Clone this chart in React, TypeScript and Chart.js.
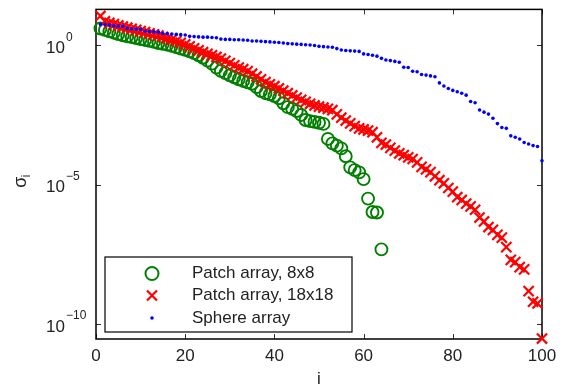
import React, { useEffect, useRef } from "react";
import { Chart, registerables } from "chart.js";

Chart.register(...registerables);

// Index axis ticks and the decades labelled on the σ axis
const indexTicks = [0, 20, 40, 60, 80, 100];
const decadeTicks = [0, -5, -10];

// log10 of the singular values σ_i, i = 1, 2, ...
const patch8x8Log = [
  0.6, 0.55, 0.5, 0.45, 0.4, 0.36, 0.32, 0.29, 0.26, 0.22,
  0.19, 0.16, 0.12, 0.08, 0.05, 0.02, -0.02, -0.07, -0.12, -0.16,
  -0.22, -0.28, -0.36, -0.45, -0.55, -0.66, -0.8, -0.92, -1.0, -1.08,
  -1.15, -1.22, -1.28, -1.33, -1.38, -1.5, -1.64, -1.72, -1.76, -1.82,
  -1.9, -2.08, -2.22, -2.28, -2.36, -2.5, -2.68, -2.72, -2.75, -2.78,
  -2.82, -3.36, -3.52, -3.6, -3.7, -3.98, -4.38, -4.48, -4.56, -4.8,
  -5.5, -5.98, -6.0, -7.32,
];

const patch18x18Log = [
  1.05, 0.86, 0.8, 0.76, 0.71, 0.67, 0.63, 0.59, 0.55, 0.51,
  0.47, 0.43, 0.39, 0.35, 0.3, 0.25, 0.2, 0.15, 0.09, 0.03,
  -0.04, -0.11, -0.18, -0.25, -0.31, -0.36, -0.42, -0.48, -0.56, -0.64,
  -0.72, -0.8, -0.86, -0.93, -1.02, -1.12, -1.22, -1.32, -1.4, -1.47,
  -1.55, -1.63, -1.72, -1.8, -1.88, -1.96, -2.03, -2.1, -2.16, -2.2,
  -2.24, -2.28, -2.33, -2.48, -2.6, -2.7, -2.8, -2.9, -2.98, -3.02,
  -3.06, -3.12, -3.3, -3.5, -3.56, -3.68, -3.78, -3.88, -3.94, -4.02,
  -4.08, -4.2, -4.36, -4.45, -4.55, -4.7, -4.84, -4.95, -5.12, -5.25,
  -5.45, -5.55, -5.68, -5.78, -5.9, -6.18, -6.32, -6.52, -6.62, -6.8,
  -6.9, -7.24, -7.7, -7.78, -7.96, -8.04, -8.82, -9.2, -9.26, -10.52,
];

const sphereLog = [
  0.75, 0.74, 0.73, 0.7, 0.69, 0.68, 0.61, 0.59, 0.58, 0.57,
  0.5, 0.49, 0.48, 0.47, 0.42, 0.41, 0.4, 0.39, 0.38, 0.37,
  0.32, 0.31, 0.3, 0.29, 0.29, 0.28, 0.27, 0.22, 0.21, 0.21,
  0.2, 0.2, 0.19, 0.18, 0.155, 0.15, 0.14, 0.13, 0.12, 0.11,
  0.1, 0.08, 0.06, 0.05, 0.04, 0.03, 0.02, 0.01, -0.01, -0.04,
  -0.05, -0.06, -0.07, -0.12, -0.17, -0.19, -0.2, -0.21, -0.22, -0.31,
  -0.33, -0.36, -0.39, -0.47, -0.53, -0.55, -0.58, -0.61, -0.79, -0.8,
  -0.93, -0.95, -1.05, -1.07, -1.1, -1.13, -1.35, -1.46, -1.55, -1.62,
  -1.67, -1.72, -1.79, -2.02, -2.06, -2.32, -2.4, -2.47, -2.62, -2.81,
  -2.95, -2.98, -3.25, -3.3, -3.36, -3.49, -3.54, -3.6, -3.63, -4.14,
];

const seriesNames = ["Patch array, 8x8", "Patch array, 18x18", "Sphere array"];
const seriesColors = ["#008000", "#ff0000", "#0000ff"];

const FONT = '"Liberation Sans", Arial, Helvetica, sans-serif';
const TEXT = "#222222";

const toPoints = (logs: number[]) => logs.map((e, k) => ({ x: k + 1, y: Math.pow(10, e) }));

function drawMarker(ctx: CanvasRenderingContext2D, kind: number, x: number, y: number) {
  ctx.save();
  ctx.strokeStyle = seriesColors[kind];
  ctx.fillStyle = seriesColors[kind];
  if (kind === 0) {
    ctx.lineWidth = 2;
    ctx.beginPath();
    ctx.arc(x, y, 6.5, 0, Math.PI * 2);
    ctx.stroke();
  } else if (kind === 1) {
    ctx.lineWidth = 2.2;
    ctx.beginPath();
    ctx.moveTo(x - 5, y - 5);
    ctx.lineTo(x + 5, y + 5);
    ctx.moveTo(x - 5, y + 5);
    ctx.lineTo(x + 5, y - 5);
    ctx.stroke();
  } else {
    ctx.beginPath();
    ctx.arc(x, y, 1.8, 0, Math.PI * 2);
    ctx.fill();
  }
  ctx.restore();
}

// Box, inward ticks, tick labels and axis titles
const axesFrame = {
  id: "axesFrame",
  beforeDatasetsDraw(chart: any) {
    const { ctx, chartArea: a, scales } = chart;
    const xs = scales.x;
    const ys = scales.y;
    ctx.save();

    ctx.strokeStyle = "#333333";
    ctx.lineWidth = 1;
    ctx.beginPath();
    for (const t of indexTicks) {
      const px = Math.round(xs.getPixelForValue(t)) + 0.5;
      ctx.moveTo(px, a.bottom);
      ctx.lineTo(px, a.bottom - 5);
      ctx.moveTo(px, a.top);
      ctx.lineTo(px, a.top + 5);
    }
    for (const e of decadeTicks) {
      const py = Math.round(ys.getPixelForValue(Math.pow(10, e))) + 0.5;
      ctx.moveTo(a.left, py);
      ctx.lineTo(a.left + 5, py);
      ctx.moveTo(a.right, py);
      ctx.lineTo(a.right - 5, py);
    }
    ctx.stroke();

    ctx.strokeStyle = "#000000";
    ctx.lineWidth = 1.5;
    ctx.strokeRect(a.left, a.top, a.right - a.left, a.bottom - a.top);

    ctx.fillStyle = TEXT;
    ctx.font = `17px ${FONT}`;
    ctx.textAlign = "center";
    ctx.textBaseline = "middle";
    for (const t of indexTicks) {
      ctx.fillText(String(t), xs.getPixelForValue(t), a.bottom + 17);
    }

    for (const e of decadeTicks) {
      const py = ys.getPixelForValue(Math.pow(10, e));
      ctx.font = `17px ${FONT}`;
      ctx.textAlign = "right";
      ctx.textBaseline = "middle";
      ctx.fillText("10", 65, py + 3);
      ctx.font = `12px ${FONT}`;
      ctx.textAlign = "left";
      ctx.fillText(e === 0 ? "0" : "\u2212" + String(-e), 66, py - 8);
    }

    // x title
    ctx.font = `17px ${FONT}`;
    ctx.textAlign = "center";
    ctx.textBaseline = "middle";
    ctx.fillText("i", (a.left + a.right) / 2, 379);

    // y title σ_i, rotated
    ctx.translate(21, (a.top + a.bottom) / 2 + 8);
    ctx.rotate(-Math.PI / 2);
    ctx.font = `18px ${FONT}`;
    ctx.textAlign = "center";
    ctx.fillText("\u03c3", 0, 0);
    ctx.font = `12px ${FONT}`;
    ctx.textAlign = "left";
    ctx.fillText("i", 5, 6);

    ctx.restore();
  },
  afterDraw(chart: any) {
    const { ctx } = chart;
    ctx.save();
    const bx = 105, by = 257, bw = 247, bh = 75;
    ctx.fillStyle = "#ffffff";
    ctx.fillRect(bx, by, bw, bh);
    ctx.strokeStyle = "#000000";
    ctx.lineWidth = 1.2;
    ctx.strokeRect(bx, by, bw, bh);
    const rows = [273.5, 295.5, 318];
    ctx.font = `17px ${FONT}`;
    ctx.textAlign = "left";
    ctx.textBaseline = "middle";
    seriesNames.forEach((name, k) => {
      drawMarker(ctx, k, 152, rows[k]);
      ctx.fillStyle = TEXT;
      ctx.fillText(name, 192, rows[k]);
    });
    ctx.restore();
  },
};

export default function App() {
  const canvasRef = useRef<HTMLCanvasElement | null>(null);

  useEffect(() => {
    const canvas = canvasRef.current;
    if (!canvas) return;
    const chart = new Chart(canvas, {
      type: "scatter",
      data: {
        datasets: [
          {
            label: seriesNames[0],
            data: toPoints(patch8x8Log),
            pointStyle: "circle",
            pointRadius: 6,
            pointBorderWidth: 1.9,
            borderColor: seriesColors[0],
            backgroundColor: "rgba(0,0,0,0)",
            order: 3,
            clip: false,
          },
          {
            label: seriesNames[1],
            data: toPoints(patch18x18Log),
            pointStyle: "crossRot",
            pointRadius: 7.2,
            pointBorderWidth: 2.2,
            borderColor: seriesColors[1],
            backgroundColor: seriesColors[1],
            order: 2,
            clip: false,
          },
          {
            label: seriesNames[2],
            data: toPoints(sphereLog),
            pointStyle: "circle",
            pointRadius: 1.8,
            pointBorderWidth: 0,
            borderColor: seriesColors[2],
            backgroundColor: seriesColors[2],
            order: 1,
            clip: false,
          },
        ],
      },
      options: {
        responsive: false,
        devicePixelRatio: 1,
        animation: false,
        events: [],
        layout: { padding: { left: 96, right: 22, top: 8, bottom: 48 } },
        scales: {
          x: { type: "linear", min: 0, max: 100, display: false },
          y: {
            type: "logarithmic",
            min: Math.pow(10, -10.536),
            max: Math.pow(10, 1.286),
            display: false,
          },
        },
        plugins: { legend: { display: false }, tooltip: { enabled: false } },
      },
      plugins: [axesFrame],
    });
    return () => chart.destroy();
  }, []);

  return (
    <div style={{ position: "fixed", left: 0, top: 0, width: 564, height: 387, background: "#ffffff" }}>
      <canvas ref={canvasRef} width={564} height={387} style={{ display: "block" }} />
    </div>
  );
}
